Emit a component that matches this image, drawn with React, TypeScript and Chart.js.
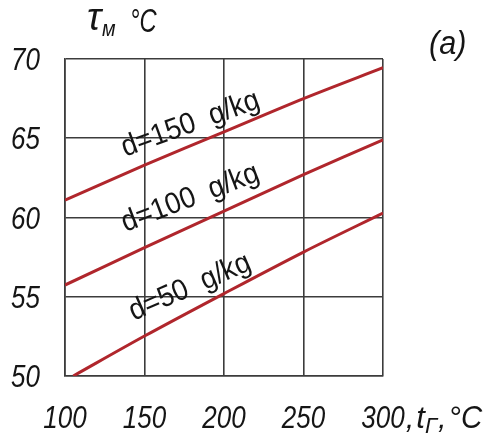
import React, { useEffect, useRef } from "react";
import { Chart, registerables } from "chart.js";

Chart.register(...registerables);

// data
const xTicks = [100, 150, 200, 250, 300];
const yTicks = [50, 55, 60, 65, 70];
const seriesNames = ["d=150  g/kg", "d=100  g/kg", "d=50  g/kg"];
const xD150 = [100, 150, 200, 250, 300];
const yD150 = [61.1, 63.3, 65.4, 67.5, 69.45];
const xD100 = [100, 150, 200, 250, 300];
const yD100 = [55.74, 58.1, 60.4, 62.7, 64.9];
const xD50 = [105.2, 150, 200, 250, 300];
const yD50 = [50, 52.52, 55.2, 57.82, 60.28];
// label anchors (data coords) and rotation (deg)
const labelX = [180.7, 180.7, 180.7];
const labelY = [65.39, 60.73, 55.11];
const labelAngle = [-20, -21, -23.5];
const yTitleMain = "τ";
const yTitleSub = "м";
const yTitleUnit = "°C";
const xTitleParts = [",", "t", "Г", ",", "°", "C"];
const panelTag = "(a)";

const RED = "#b0262c";
const GRID = "#3c3c3c";
const TXT = "#151515";
const FONT = "'Liberation Sans', Arial, sans-serif";
const SQ = 0.84; // horizontal squeeze of the narrow drafting font

const toPts = (xs: number[], ys: number[]) => xs.map((x, i) => ({ x, y: ys[i] }));

function narrowText(
  ctx: CanvasRenderingContext2D,
  s: string,
  x: number,
  y: number,
  size: number,
  align: "left" | "center" | "right",
  sq: number = SQ
) {
  ctx.save();
  ctx.font = `italic ${size}px ${FONT}`;
  ctx.textAlign = align;
  ctx.textBaseline = "alphabetic";
  ctx.translate(x, y);
  ctx.scale(sq, 1);
  ctx.fillText(s, 0, 0);
  const w = ctx.measureText(s).width * sq;
  ctx.restore();
  return w;
}

const textPlugin = {
  id: "textPlugin",
  afterDraw(chart: any) {
    const ctx = chart.ctx as CanvasRenderingContext2D;
    const xs = chart.scales.x;
    const ys = chart.scales.y;
    ctx.save();
    ctx.fillStyle = TXT;
    // tick labels from the scales' ticks
    xs.ticks.forEach((t: any) => {
      narrowText(ctx, String(t.value), xs.getPixelForValue(t.value), 428, 31, "center");
    });
    ys.ticks.forEach((t: any) => {
      narrowText(ctx, String(t.value), 40, ys.getPixelForValue(t.value) + 11, 31, "right");
    });
    // line labels
    ctx.font = `30px ${FONT}`;
    ctx.textAlign = "center";
    ctx.textBaseline = "alphabetic";
    seriesNames.forEach((name, i) => {
      const px = xs.getPixelForValue(labelX[i]);
      const py = ys.getPixelForValue(labelY[i]);
      ctx.save();
      ctx.translate(px, py);
      ctx.rotate((labelAngle[i] * Math.PI) / 180);
      ctx.scale(0.92, 1);
      ctx.fillText(name, 0, 0);
      ctx.restore();
    });
    // y title
    narrowText(ctx, yTitleMain, 87, 30, 38, "left", 1);
    narrowText(ctx, yTitleSub, 102, 36, 22, "left", 0.9);
    narrowText(ctx, yTitleUnit, 130, 32, 33, "left", 0.72);
    // panel tag
    narrowText(ctx, panelTag, 429, 54, 34, "left", 0.9);
    // x title suffix after last tick
    ctx.font = `italic 31px ${FONT}`;
    const lastV = xTicks[xTicks.length - 1];
    const lastPx = xs.getPixelForValue(lastV);
    const lastW = ctx.measureText(String(lastV)).width * SQ;
    let cx = lastPx + lastW / 2 + 1;
    const by = 428;
    cx += narrowText(ctx, xTitleParts[0], cx, by, 31, "left", 1) + 2;
    cx += narrowText(ctx, xTitleParts[1], cx, by, 31, "left", 1);
    cx += narrowText(ctx, xTitleParts[2], cx, by + 5, 22, "left", 1) + 1;
    cx += narrowText(ctx, xTitleParts[3], cx, by, 31, "left", 1) + 2;
    cx += narrowText(ctx, xTitleParts[4], cx, by, 31, "left", 1);
    narrowText(ctx, xTitleParts[5], cx, by, 31, "left", 0.95);
    ctx.restore();
  },
};

export default function App() {
  const ref = useRef<HTMLCanvasElement>(null);
  useEffect(() => {
    if (!ref.current) return;
    const mk = (name: string, pts: any) => ({
      label: name,
      data: pts,
      borderColor: RED,
      borderWidth: 3,
      pointRadius: 0,
      fill: false,
      tension: 0.3,
    });
    const chart = new Chart(ref.current, {
      type: "line",
      data: {
        datasets: [
          mk(seriesNames[0], toPts(xD150, yD150)),
          mk(seriesNames[1], toPts(xD100, yD100)),
          mk(seriesNames[2], toPts(xD50, yD50)),
        ],
      },
      options: {
        animation: false,
        responsive: false,
        devicePixelRatio: 1,
        layout: { padding: { top: 59, right: 110, left: 0, bottom: 0 } },
        plugins: { legend: { display: false }, tooltip: { enabled: false } },
        scales: {
          x: {
            type: "linear",
            min: xTicks[0],
            max: xTicks[xTicks.length - 1],
            afterBuildTicks: (s: any) => {
              s.ticks = xTicks.map((v) => ({ value: v }));
            },
            afterFit: (s: any) => {
              s.height = 59;
            },
            ticks: { display: false },
            grid: { color: GRID, lineWidth: 1.6, drawTicks: false },
            border: { color: GRID, width: 1.6 },
          },
          y: {
            type: "linear",
            min: yTicks[0],
            max: yTicks[yTicks.length - 1],
            afterBuildTicks: (s: any) => {
              s.ticks = yTicks.map((v) => ({ value: v }));
            },
            afterFit: (s: any) => {
              s.width = 65;
            },
            ticks: { display: false },
            grid: { color: GRID, lineWidth: 1.6, drawTicks: false },
            border: { color: GRID, width: 1.6 },
          },
        },
      },
      plugins: [textPlugin],
    });
    return () => chart.destroy();
  }, []);
  return (
    <div style={{ position: "fixed", left: 0, top: 0, width: 493, height: 435, background: "#fff" }}>
      <canvas ref={ref} width={493} height={435} style={{ width: 493, height: 435, display: "block" }} />
    </div>
  );
}
